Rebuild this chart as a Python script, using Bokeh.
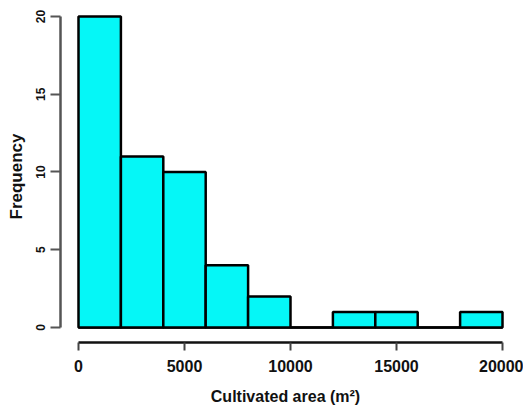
from bokeh.plotting import figure
from bokeh.models import Range1d, LinearAxis, FixedTicker
from bokeh.embed import file_html
from bokeh.resources import INLINE

# Histogram data (bins of 2000 m^2)
bin_edges = [0, 2000, 4000, 6000, 8000, 10000, 12000, 14000, 16000, 18000, 20000]
counts = [20, 11, 10, 4, 2, 0, 1, 1, 0, 1]
x_ticks = [0, 5000, 10000, 15000, 20000]
y_ticks = [0, 5, 10, 15, 20]
x_title = "Cultivated area (m²)"
y_title = "Frequency"

p = figure(width=523, height=407, output_backend="svg", toolbar_location=None,
           x_axis_type=None, y_axis_type=None,
           x_range=Range1d(-849, 20377), y_range=Range1d(-0.965, 20.386),
           min_border_left=60, min_border_right=13, min_border_top=10,
           min_border_bottom=65)
p.grid.visible = False
p.outline_line_color = None
p.background_fill_color = "white"

# baseline for zero-height bins
p.segment(x0=[bin_edges[0]], y0=[0], x1=[bin_edges[-1]], y1=[0],
          line_color="black", line_width=2.5)
p.quad(left=bin_edges[:-1], right=bin_edges[1:], bottom=0, top=counts,
       fill_color="#05F7F7", line_color="black", line_width=2.5)

xa = LinearAxis(ticker=FixedTicker(ticks=x_ticks), bounds=(0, 20000))
xa.axis_line_width = 2.5
xa.axis_line_color = "#111111"
xa.major_tick_line_width = 2
xa.major_tick_line_color = "#444444"
xa.major_tick_out = 8
xa.major_tick_in = 0
xa.minor_tick_out = 0
xa.minor_tick_in = 0
xa.major_label_standoff = 9
xa.major_label_text_font = "Liberation Sans"
xa.major_label_text_font_style = "bold"
xa.major_label_text_font_size = "16px"
xa.major_label_text_color = "#111111"
xa.axis_label = x_title
xa.axis_label_standoff = 13
xa.axis_label_text_font = "Liberation Sans"
xa.axis_label_text_font_style = "bold"
xa.axis_label_text_font_size = "16px"
xa.axis_label_text_color = "#111111"
p.add_layout(xa, "below")

ya = LinearAxis(ticker=FixedTicker(ticks=y_ticks), bounds=(0, 20))
ya.axis_line_width = 2.5
ya.axis_line_color = "#555555"
ya.major_tick_line_width = 2
ya.major_tick_line_color = "#555555"
ya.major_tick_out = 10
ya.major_tick_in = 0
ya.minor_tick_out = 0
ya.minor_tick_in = 0
ya.major_label_orientation = "vertical"
ya.major_label_standoff = 5
ya.major_label_text_font = "Liberation Sans"
ya.major_label_text_font_style = "bold"
ya.major_label_text_font_size = "12px"
ya.major_label_text_color = "#111111"
ya.axis_label = y_title
ya.axis_label_standoff = 8
ya.axis_label_text_font = "Liberation Sans"
ya.axis_label_text_font_style = "bold"
ya.axis_label_text_font_size = "17px"
ya.axis_label_text_color = "#111111"
p.add_layout(ya, "left")

open("out.html", "w").write(file_html(p, INLINE))
